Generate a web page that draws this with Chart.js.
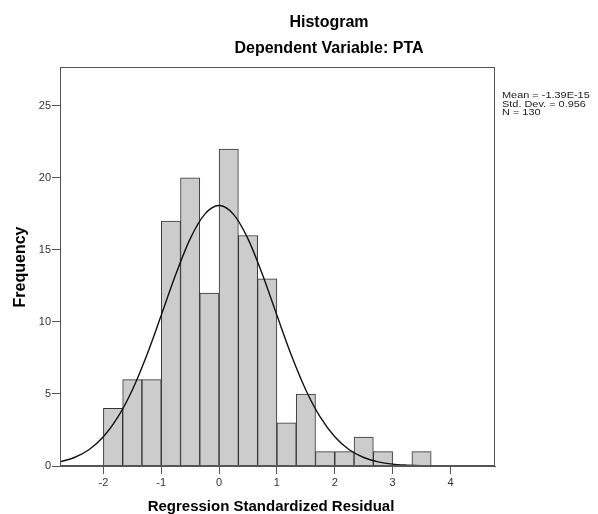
<!DOCTYPE html>
<html lang="en">
<head>
    <meta charset="UTF-8">
    <title>Histogram - Dependent Variable: PTA</title>
    <script src="https://cdn.jsdelivr.net/npm/chart.js"></script>
    <style>
        html, body {
            margin: 0;
            padding: 0;
            background: #ffffff;
        }
        #chart {
            display: block;
        }
    </style>
</head>
<body>
    <canvas id="chart" width="598" height="514"></canvas>

    <script>
        // histogram bins (centres, width 1/3) and their counts
        const binCenters = [-1.833, -1.5, -1.167, -0.833, -0.5, -0.167, 0.167, 0.5, 0.833,
                            1.167, 1.5, 1.833, 2.167, 2.5, 2.833, 3.167, 3.5];
        const binCounts = [4, 6, 6, 17, 20, 12, 22, 16, 13, 3, 5, 1, 1, 2, 1, 0, 1];

        // normal curve
        const curveX = [-2.75, -2.5, -2.25, -2, -1.75, -1.5, -1.25, -1, -0.75, -0.5, -0.25, 0,
                        0.25, 0.5, 0.75, 1, 1.25, 1.5, 1.75, 2, 2.25, 2.5, 2.75, 3,
                        3.25, 3.5, 3.75, 4, 4.25, 4.5, 4.75];
        const curveY = [0.29, 0.59, 1.13, 2.03, 3.39, 5.28, 7.69, 10.46, 13.29, 15.77, 17.47, 18.08,
                        17.47, 15.77, 13.29, 10.46, 7.69, 5.28, 3.39, 2.03, 1.13, 0.59, 0.29, 0.13,
                        0.06, 0.02, 0.01, 0, 0, 0, 0];

        const xTicks = [-2, -1, 0, 1, 2, 3, 4];
        const yTicks = [0, 5, 10, 15, 20, 25];

        const statsLines = ['Mean = -1.39E-15', 'Std. Dev. = 0.956', 'N = 130'];

        const FONT = "'Liberation Sans', Arial, sans-serif";
        const AXIS = '#555555';

        // titles, frame and the stats box
        const decorations = {
            id: 'decorations',
            afterDraw(chart) {
                const ctx = chart.ctx;
                const a = chart.chartArea;
                ctx.save();

                ctx.strokeStyle = AXIS;
                ctx.lineWidth = 1;
                ctx.strokeRect(Math.round(a.left) + 0.5, Math.round(a.top) + 0.5,
                    Math.round(a.right - a.left) - 1, Math.round(a.bottom - a.top) - 1);

                ctx.fillStyle = '#000';
                ctx.textAlign = 'center';
                ctx.textBaseline = 'alphabetic';
                ctx.font = 'bold 16px ' + FONT;
                ctx.fillText('Histogram', 329, 27);
                ctx.fillText('Dependent Variable: PTA', 329, 53);

                ctx.font = 'bold 15px ' + FONT;
                ctx.fillText('Regression Standardized Residual', 271, 511);

                ctx.save();
                ctx.translate(24.5, 267);
                ctx.rotate(-Math.PI / 2);
                ctx.font = 'bold 16px ' + FONT;
                ctx.fillText('Frequency', 0, 0);
                ctx.restore();

                // stats text is a bit wide and short in the original
                ctx.save();
                ctx.translate(502, 0);
                ctx.scale(1.15, 1);
                ctx.textAlign = 'left';
                ctx.font = '9.5px ' + FONT;
                ctx.fillStyle = '#222';
                statsLines.forEach((t, i) => {
                    ctx.fillText(t, 0, 98.3 + i * 8.2);
                });
                ctx.restore();

                ctx.restore();
            }
        };

        new Chart(document.getElementById('chart'), {
            data: {
                datasets: [
                    {
                        type: 'line',
                        data: curveX.map((x, i) => ({ x: x, y: curveY[i] })),
                        borderColor: '#111111',
                        borderWidth: 1.4,
                        pointRadius: 0,
                        cubicInterpolationMode: 'monotone',
                        fill: false,
                        order: 0
                    },
                    {
                        type: 'bar',
                        data: binCenters.map((x, i) => ({ x: x, y: binCounts[i] })),
                        backgroundColor: '#cccccc',
                        borderColor: '#333333',
                        borderWidth: 1,
                        borderSkipped: 'bottom',
                        barPercentage: 1,
                        categoryPercentage: 1,
                        order: 1
                    }
                ]
            },
            options: {
                responsive: false,
                devicePixelRatio: 1,
                animation: false,
                events: [],
                layout: {
                    padding: { top: 67, right: 103, left: 0, bottom: 0 }
                },
                plugins: {
                    legend: { display: false },
                    tooltip: { enabled: false },
                    title: { display: false }
                },
                scales: {
                    x: {
                        type: 'linear',
                        min: -2.75,
                        max: 4.77,
                        offset: false,
                        afterBuildTicks: s => { s.ticks = xTicks.map(v => ({ value: v })); },
                        afterFit: s => { s.height = 48; },
                        grid: {
                            offset: false,
                            drawOnChartArea: false,
                            drawTicks: true,
                            tickLength: 8,
                            color: AXIS
                        },
                        border: { display: true, color: AXIS, width: 1 },
                        ticks: {
                            color: '#333',
                            font: { family: FONT, size: 11 },
                            padding: 2,
                            maxRotation: 0
                        }
                    },
                    y: {
                        min: 0,
                        max: 27.7,
                        afterBuildTicks: s => { s.ticks = yTicks.map(v => ({ value: v })); },
                        afterFit: s => { s.width = 60; },
                        grid: {
                            drawOnChartArea: false,
                            drawTicks: true,
                            tickLength: 8,
                            color: AXIS
                        },
                        border: { display: true, color: AXIS, width: 1 },
                        ticks: {
                            color: '#333',
                            font: { family: FONT, size: 11 },
                            padding: 1
                        }
                    }
                }
            },
            plugins: [decorations]
        });
    </script>
</body>
</html>
